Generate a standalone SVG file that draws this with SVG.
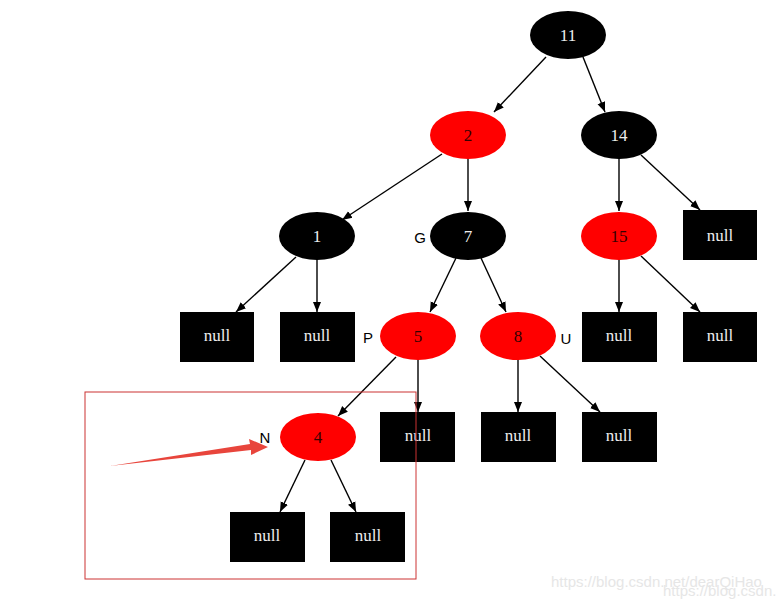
<svg xmlns="http://www.w3.org/2000/svg" width="781" height="599" viewBox="0 0 781 599">
<style>
.b{fill:#000}
.r{fill:#ff0000}
.t{font-family:"Liberation Serif",serif;font-size:17px;text-anchor:middle;dominant-baseline:central}
.tw{fill:#eeeeee}
.tr{fill:#330000}
.lab{font-family:"Liberation Sans",sans-serif;font-size:15px;fill:#000;text-anchor:middle;dominant-baseline:central}
.e{stroke:#000;stroke-width:1.4;fill:none;marker-end:url(#ah)}
.wm{font-family:"Liberation Sans",sans-serif;font-size:15px;fill:#e6e6e6}
</style>
<defs>
<marker id="ah" viewBox="0 0 10 10" refX="10" refY="5" markerWidth="10" markerHeight="10" markerUnits="userSpaceOnUse" orient="auto">
<path d="M0,1 L10,5 L0,9 Z" fill="#000"/>
</marker>
</defs>
<rect width="781" height="599" fill="#fff"/>
<g id="connectors">
<line class="e" x1="546" y1="57" x2="494" y2="112"/>
<line class="e" x1="583" y1="57" x2="605" y2="112"/>
<line class="e" x1="442" y1="154" x2="342" y2="220"/>
<line class="e" x1="468" y1="159" x2="468" y2="211"/>
<line class="e" x1="619" y1="159" x2="619" y2="211"/>
<line class="e" x1="641" y1="155" x2="700" y2="210"/>
<line class="e" x1="296" y1="257" x2="236" y2="312"/>
<line class="e" x1="317" y1="260" x2="317" y2="312"/>
<line class="e" x1="456" y1="258" x2="430" y2="312"/>
<line class="e" x1="481" y1="258" x2="506" y2="312"/>
<line class="e" x1="619" y1="260" x2="619" y2="312"/>
<line class="e" x1="641" y1="256" x2="700" y2="312"/>
<line class="e" x1="396" y1="357" x2="338" y2="416"/>
<line class="e" x1="418" y1="360" x2="418" y2="412"/>
<line class="e" x1="518" y1="360" x2="518" y2="412"/>
<line class="e" x1="540" y1="356" x2="600" y2="412"/>
<line class="e" x1="305" y1="460" x2="280" y2="512"/>
<line class="e" x1="331" y1="460" x2="356" y2="512"/>
</g>
<g id="n11"><ellipse class="b" cx="568" cy="35" rx="38" ry="24"/><text class="t tw" x="568" y="35">11</text></g>
<g id="n2"><ellipse class="r" cx="468" cy="135" rx="38" ry="24"/><text class="t tr" x="468" y="135">2</text></g>
<g id="n14"><ellipse class="b" cx="619" cy="135" rx="38" ry="24"/><text class="t tw" x="619" y="135">14</text></g>
<g id="n1"><ellipse class="b" cx="317" cy="236" rx="38" ry="24"/><text class="t tw" x="317" y="236">1</text></g>
<g id="n7"><ellipse class="b" cx="468" cy="236" rx="38" ry="24"/><text class="t tw" x="468" y="236">7</text><text class="lab" x="420" y="237">G</text></g>
<g id="n15"><ellipse class="r" cx="619" cy="236" rx="38" ry="24"/><text class="t tr" x="619" y="236">15</text></g>
<g id="null14"><rect class="b" x="683" y="210" width="74" height="50"/><text class="t tw" x="720" y="235">null</text></g>
<g id="null1a"><rect class="b" x="180" y="312" width="74" height="50"/><text class="t tw" x="217" y="335">null</text></g>
<g id="null1b"><rect class="b" x="280" y="312" width="75" height="50"/><text class="t tw" x="317" y="335">null</text></g>
<g id="n5"><ellipse class="r" cx="418" cy="336" rx="38" ry="24"/><text class="t tr" x="418" y="336">5</text><text class="lab" x="368" y="337">P</text></g>
<g id="n8"><ellipse class="r" cx="518" cy="336" rx="38" ry="24"/><text class="t tr" x="518" y="336">8</text><text class="lab" x="566" y="338">U</text></g>
<g id="null15a"><rect class="b" x="582" y="312" width="75" height="50"/><text class="t tw" x="619" y="335">null</text></g>
<g id="null15b"><rect class="b" x="683" y="312" width="74" height="50"/><text class="t tw" x="720" y="335">null</text></g>
<g id="n4"><ellipse class="r" cx="318" cy="437" rx="38" ry="24"/><text class="t tr" x="318" y="437">4</text><text class="lab" x="265" y="437">N</text></g>
<g id="null5"><rect class="b" x="380" y="412" width="75" height="50"/><text class="t tw" x="418" y="435">null</text></g>
<g id="null8a"><rect class="b" x="481" y="412" width="75" height="50"/><text class="t tw" x="518" y="435">null</text></g>
<g id="null8b"><rect class="b" x="582" y="412" width="75" height="50"/><text class="t tw" x="619" y="435">null</text></g>
<g id="null4a"><rect class="b" x="230" y="512" width="75" height="50"/><text class="t tw" x="267" y="535">null</text></g>
<g id="null4b"><rect class="b" x="330" y="512" width="75" height="50"/><text class="t tw" x="368" y="535">null</text></g>
<g id="highlight">
<rect x="85" y="392" width="331" height="187" fill="none" stroke="#cc3333" stroke-width="1"/>
<path d="M110,466 L250,444 L249,439 L268,447 L251,455 L251,450 Z" fill="#e8453c"/>
</g>
<text class="wm" x="551" y="587">https://blog.csdn.net/dearQiHao</text>
<text class="wm" x="663" y="596">https://blog.csdn.</text>
</svg>
